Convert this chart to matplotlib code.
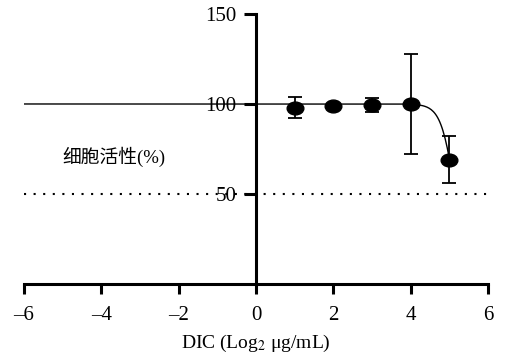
import numpy as np
import matplotlib.pyplot as plt
from matplotlib.path import Path
from matplotlib.transforms import Affine2D

plt.rcParams['font.family'] = ['Liberation Serif', 'Noto Sans CJK SC']
plt.rcParams['mathtext.fontset'] = 'stix'

# -----------------------
# Data
# -----------------------

log_conc = [1, 2, 3, 4, 5]
viability = [98, 99, 99.5, 100, 69]
viability_err = [6, 1, 4, 28, 13]

# dose-response fit parameters
fit_top = 100
fit_bottom = 0
fit_logic50 = 5.15
fit_hill = 2.4
fit_range = (-6, 5)

xticks = [-6, -4, -2, 0, 2, 4, 6]
yticks = [50, 100, 150]
ref_level = 50

# -----------------------
# Plot
# -----------------------

fig = plt.figure(figsize=(5.09, 3.61), dpi=100)
ax = fig.add_axes([0.0472, 0.2133, 0.9116, 0.748])

xfit = np.linspace(fit_range[0], fit_range[1], 400)
yfit = fit_bottom + (fit_top - fit_bottom) / (1 + 10 ** ((xfit - fit_logic50) * fit_hill))
ax.plot(xfit, yfit, color='black', lw=1.0, zorder=3)

ax.axhline(ref_level, xmin=0, xmax=1, color='black', lw=1.5,
           linestyle=(0, (1.0, 3.6)), zorder=2)

ellipse = Path.unit_circle().transformed(Affine2D().scale(1.3, 1.0))
ax.errorbar(log_conc, viability, yerr=viability_err, fmt='none',
            ecolor='black', elinewidth=1.3, capsize=5, capthick=1.3, zorder=4)
ax.plot(log_conc, viability, linestyle='none', marker=ellipse,
        markersize=12, color='black', zorder=5)

ax.set_xlim(-6, 6)
ax.set_ylim(0, 150)

ax.spines['top'].set_visible(False)
ax.spines['right'].set_visible(False)
ax.spines['left'].set_position(('data', 0))
ax.spines['left'].set_linewidth(2.2)
ax.spines['bottom'].set_linewidth(2.2)
ax.spines['left'].set_zorder(1)

ax.set_xticks(xticks)
ax.set_xticklabels([f"\u2013{abs(t)}" if t < 0 else str(t) for t in xticks])
ax.set_yticks(yticks)
ax.tick_params(axis='x', direction='out', length=7.5, width=2.2, pad=8,
               labelsize=15)
ax.tick_params(axis='y', direction='out', length=9, width=2.2, pad=5,
               labelsize=15)

ax.set_xlabel(r"DIC (Log$_2$ μg/mL)", fontsize=14, labelpad=6)
ax.text(-3.67, 70.5, "细胞活性(%)", fontsize=13.5, ha='center', va='center')

fig.savefig("out.png", dpi=100)
